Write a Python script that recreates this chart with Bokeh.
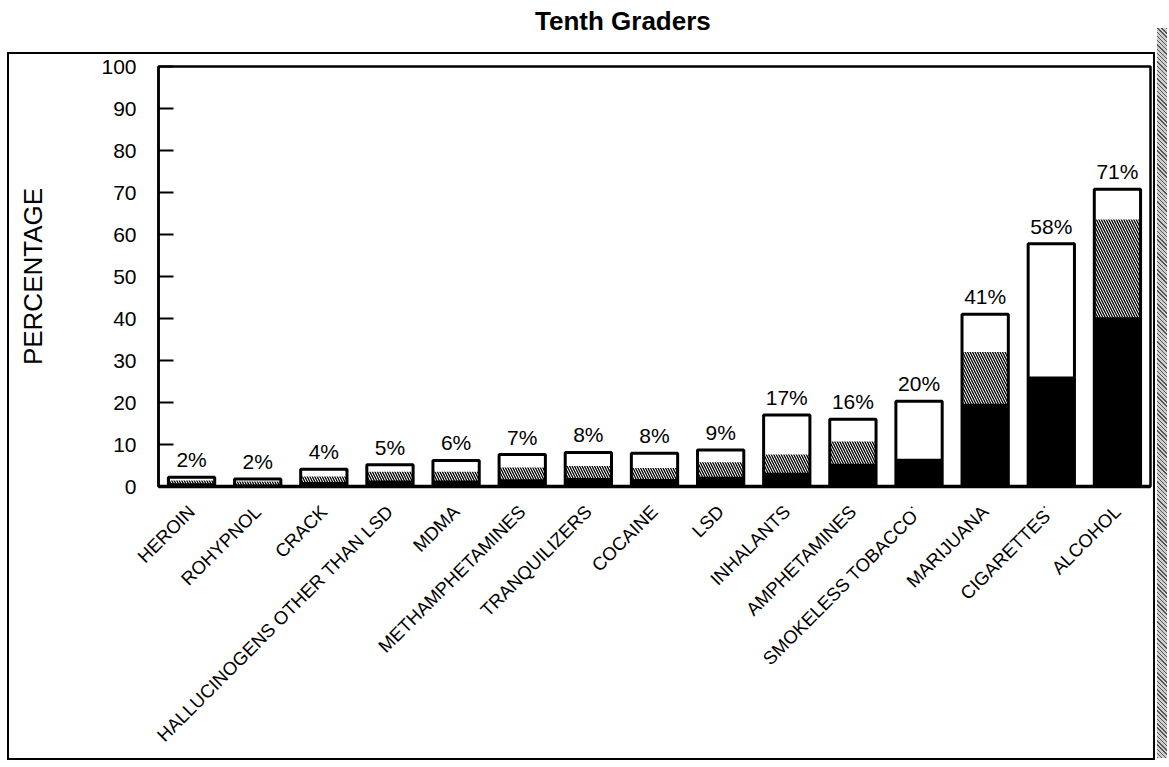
import numpy as np
from math import pi
from bokeh.plotting import figure
from bokeh.models import ColumnDataSource, FactorRange, Range1d, FixedTicker, Div
from bokeh.layouts import column, row
from bokeh.embed import file_html
from bokeh.resources import INLINE
from bokeh.core.properties import value

# ---- data ----
drugs = ["HEROIN", "ROHYPNOL", "CRACK", "HALLUCINOGENS OTHER THAN LSD", "MDMA",
         "METHAMPHETAMINES", "TRANQUILIZERS", "COCAINE", "LSD", "INHALANTS",
         "AMPHETAMINES", "SMOKELESS TOBACCO\u02d9", "MARIJUANA", "CIGARETTES\u02d9", "ALCOHOL"]
lifetime = [2.2, 1.8, 4.1, 5.2, 6.2, 7.6, 8.1, 7.9, 8.7, 17.0, 16.0, 20.3, 41.0, 57.8, 70.8]
past_year = [1.4, 1.2, 2.4, 3.5, 3.5, 4.5, 4.9, 4.4, 5.8, 7.6, 10.7, np.nan, 32.0, np.nan, 63.6]
past_month = [0.8, 0.5, 1.1, 1.4, 1.4, 1.7, 2.0, 1.8, 2.3, 3.3, 5.4, 6.6, 19.7, 26.2, 40.3]
labels = ["2%", "2%", "4%", "5%", "6%", "7%", "8%", "8%", "9%", "17%", "16%", "20%",
          "41%", "58%", "71%"]
y_ticks = [0, 10, 20, 30, 40, 50, 60, 70, 80, 90, 100]

FONT = "Liberation Sans"

src = ColumnDataSource(dict(drug=drugs, life=lifetime, year=np.array(past_year, dtype=float),
                            month=past_month, label=labels))

p = figure(x_range=FactorRange(*drugs, range_padding=0), y_range=Range1d(0, 100),
           width=1148, height=708, output_backend="svg", toolbar_location=None,
           min_border_left=149, min_border_right=7, min_border_top=12, min_border_bottom=276,
           styles={"border": "2px solid black", "margin-left": "7px"})

W = 0.7
p.vbar(x="drug", top="life", width=W, source=src, fill_color="white", line_color=None)
p.vbar(x="drug", top="year", width=W, source=src, fill_color="white", line_color=None,
       hatch_pattern="\\", hatch_color="black", hatch_scale=5, hatch_weight=1.3)
p.vbar(x="drug", top="month", width=W, source=src, fill_color="black", line_color=None)
p.vbar(x="drug", top="life", width=W, source=src, fill_color=None, line_color="black",
       line_width=3)
p.text(x="drug", y="life", text="label", source=src, y_offset=-6,
       text_align="center", text_baseline="bottom", text_font=value(FONT),
       text_font_size="21px", text_color="black")

p.xgrid.visible = False
p.ygrid.visible = False
p.outline_line_color = "black"
p.outline_line_width = 2.5
p.background_fill_color = "white"
p.border_fill_color = "white"

yax = p.yaxis[0]
yax.ticker = FixedTicker(ticks=y_ticks)
yax.major_tick_in = 15
yax.major_tick_out = 0
yax.minor_tick_line_color = None
yax.major_tick_line_width = 2
yax.axis_line_width = 2.5
yax.major_label_standoff = 22
yax.major_label_text_font = FONT
yax.major_label_text_font_size = "21px"
yax.major_label_text_color = "black"
yax.axis_label = "PERCENTAGE"
yax.axis_label_text_font = FONT
yax.axis_label_text_font_size = "26px"
yax.axis_label_text_font_style = "normal"
yax.axis_label_text_color = "black"
yax.axis_label_standoff = 50

xax = p.xaxis[0]
xax.major_tick_line_color = None
xax.minor_tick_line_color = None
xax.axis_line_width = 3.5
xax.major_label_orientation = pi / 4
xax.major_label_standoff = 16
xax.major_label_text_font = FONT
xax.major_label_text_font_size = "18.5px"
xax.major_label_text_color = "black"

title = Div(text='<div style="font-family:\'Liberation Sans\';font-size:26px;font-weight:bold;'
                 'padding-left:530px;margin-top:-2px;color:black;">Tenth Graders</div>',
            width=1100, height=42)

stripe = Div(text="", width=10, height=730,
             styles={"margin-left": "2px", "margin-top": "28px",
                     "background": "repeating-linear-gradient(45deg, #555 0px, #555 1px, #cfcfcf 1px, #cfcfcf 3px)"})

left = column(title, p, spacing=0)
layout = row(left, stripe, spacing=0)

with open("out.html", "w") as f:
    f.write(file_html(layout, INLINE))
